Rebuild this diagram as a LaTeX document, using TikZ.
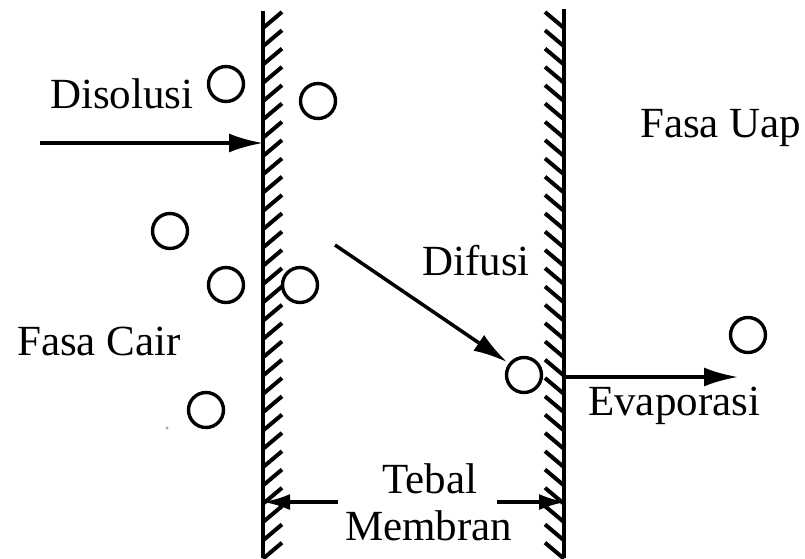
\documentclass[tikz,border=0pt]{standalone}
\usepackage{fontspec}
\setmainfont{Liberation Serif}
\usetikzlibrary{arrows.meta}
\begin{document}
\begin{tikzpicture}[x=1pt,y=-1pt,
  lbl/.style={anchor=base west,inner sep=0pt,font=\fontsize{43}{45}\selectfont},
  particle/.style={circle,draw,line width=3.4pt,minimum size=35pt,inner sep=0pt},
  wallline/.style={line width=4.5pt},
  hatch/.style={line width=4pt},
  flow/.style={line width=3.5pt,-{Latex[length=34pt,width=19pt]}},
  gauge/.style={line width=3.5pt,-{Latex[length=27pt,width=16pt]}}]
\useasboundingbox (0,0) rectangle (805,558);

% membrane walls
\draw[wallline] (263,11) -- (263,558);
\foreach \k in {0,...,29}
  \draw[hatch] (263,28+18.3*\k) -- (282,12+18.3*\k);
\draw[wallline] (564,9) -- (564,558);
\foreach \k in {0,...,29}
  \draw[hatch] (564,28+18.3*\k) -- (545,12+18.3*\k);

% particles
\node[particle] (p1) at (226,84) {};
\node[particle] (p2) at (318,101) {};
\node[particle] (p3) at (170,231) {};
\node[particle] (p4) at (226,285) {};
\node[particle] (p5) at (300,285) {};
\node[particle] (p6) at (524,375) {};
\node[particle] (p7) at (748,335) {};
\node[particle] (p8) at (206,410) {};
\fill[gray!70] (167,428) circle (1.6);

% labels
\node[lbl] (disolusi) at (50,108) {Disolusi};
\node[lbl] (uap) at (640,137) {Fasa Uap};
\node[lbl] (cair) at (17,355) {Fasa Cair};
\node[lbl] (difusi) at (422,275) {Difusi};
\node[lbl] (evap) at (588,415) {Evaporasi};
\node[lbl] (tebal) at (382,493) {Tebal};
\node[lbl] (membran) at (345,540) {Membran};

% arrow end points
\coordinate (dis0) at (40,143);
\coordinate (dis1) at (263,143);
\coordinate (dif0) at (335,245);
\coordinate (dif1) at (507,362);
\coordinate (eva0) at (564,377);
\coordinate (eva1) at (738,377);
\coordinate (tl0) at (338,502);
\coordinate (tl1) at (263,502);
\coordinate (tr0) at (497,502);
\coordinate (tr1) at (566,502);

% transport steps
\draw[flow] (dis0) -- (dis1);
\draw[flow] (dif0) -- (dif1);
\draw[flow] (eva0) -- (eva1);

% thickness marker
\draw[gauge] (tl0) -- (tl1);
\draw[gauge] (tr0) -- (tr1);
\end{tikzpicture}
\end{document}
